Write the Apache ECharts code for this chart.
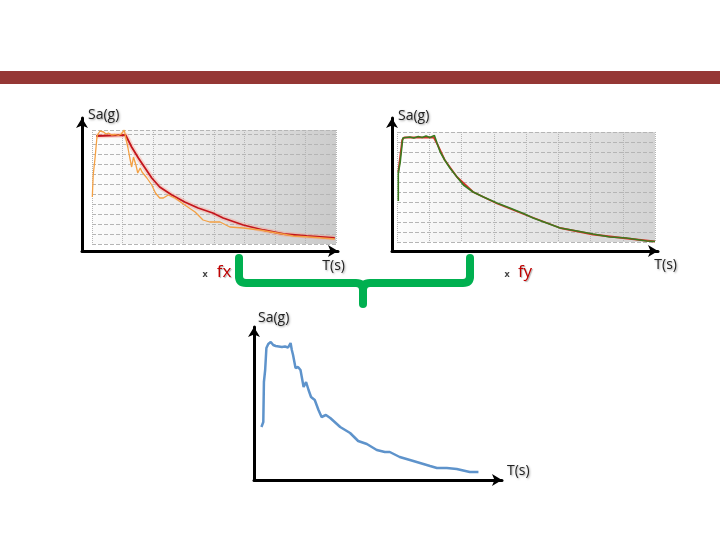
<!DOCTYPE html>
<html><head><meta charset="utf-8">
<script src="https://cdn.jsdelivr.net/npm/echarts@6/dist/echarts.min.js"></script>
<style>html,body{margin:0;padding:0;background:#fff}#c{width:720px;height:540px}</style>
</head><body><div id="c"></div>
<script>
// ---- data (T in s, Sa in g) ----
const fxRecordT = [0.005,0.02,0.05,0.08,0.09,0.13,0.19,0.23,0.27,0.32,0.38,0.43,0.48,0.53,0.55,0.59,0.62,0.65,0.68,0.72,0.75,0.79,0.82,0.90,0.98,1.04,1.11,1.17,1.25,1.36,1.52,1.69,1.82,1.93,2.10,2.26,2.48,2.75,3.03,3.30,3.57,3.98];
const fxRecordSa = [0.47,0.69,0.86,1.06,1.09,1.13,1.12,1.10,1.11,1.09,1.095,1.085,1.10,1.14,1.07,0.96,0.86,0.77,0.87,0.79,0.71,0.76,0.72,0.66,0.59,0.51,0.46,0.46,0.49,0.46,0.39,0.32,0.24,0.22,0.22,0.17,0.16,0.14,0.11,0.08,0.07,0.05];
const fxTargetT = [0.07,0.55,0.65,0.76,0.87,0.98,1.11,1.31,1.52,1.74,1.98,2.15,2.48,2.81,3.14,3.52,3.98];
const fxTargetSa = [1.08,1.09,0.97,0.86,0.76,0.66,0.57,0.49,0.42,0.36,0.31,0.26,0.19,0.14,0.10,0.08,0.06];
const fyRecordT = [0.02,0.02,0.05,0.09,0.10,0.14,0.20,0.26,0.33,0.39,0.45,0.51,0.58,0.59,0.62,0.67,0.74,0.82,0.93,1.03,1.18,1.34,1.55,1.75,1.98,2.11,2.32,2.53,2.79,3.04,3.30,3.56,3.87,4.0];
const fyRecordSa = [0.41,0.69,0.80,1.04,1.05,1.045,1.05,1.04,1.055,1.045,1.06,1.045,1.065,1.05,0.99,0.90,0.82,0.74,0.65,0.57,0.50,0.45,0.39,0.34,0.28,0.24,0.19,0.14,0.11,0.08,0.05,0.04,0.01,0.005];
const fyTargetT = [0.02,0.08,0.11,0.57,0.62,0.74,0.93,1.18,1.55,1.98,2.53,3.04,3.57,4.0];
const fyTargetSa = [0.70,1.02,1.045,1.045,0.985,0.82,0.65,0.50,0.385,0.275,0.14,0.075,0.035,0.005];
const combT = [0.12,0.15,0.16,0.18,0.20,0.23,0.27,0.31,0.35,0.40,0.45,0.50,0.55,0.59,0.61,0.63,0.67,0.71,0.75,0.80,0.84,0.88,0.92,0.98,1.04,1.09,1.16,1.23,1.39,1.55,1.68,1.82,1.98,2.11,2.19,2.35,2.57,2.84,2.95,3.11,3.27,3.48,3.62];
const combSa = [0.53,0.58,0.98,1.10,1.32,1.36,1.38,1.35,1.34,1.335,1.33,1.335,1.325,1.37,1.30,1.25,1.12,1.13,1.10,0.93,0.98,0.90,0.83,0.80,0.70,0.63,0.65,0.62,0.53,0.47,0.39,0.36,0.30,0.28,0.28,0.23,0.19,0.14,0.12,0.12,0.11,0.08,0.08];
const yName = 'Sa(g)';
const xName = 'T(s)';
const fxLabel = 'fx';
const fyLabel = 'fy';

const zip = (a, b) => a.map((v, i) => [v, b[i]]);
const chart = echarts.init(document.getElementById('c'), null, {renderer: 'canvas'});

const FONT = '"Open Sans", "Noto Sans", sans-serif';
const nameStyle = (extra) => Object.assign({
  color: '#222', fontSize: 14, fontFamily: FONT,
  textShadowColor: 'rgba(0,0,0,0.35)', textShadowBlur: 2, textShadowOffsetX: 1, textShadowOffsetY: 1
}, extra);

const grad = (end) => ({
  type: 'linear', x: 0, y: 0, x2: 1, y2: 0.35,
  colorStops: [{offset: 0, color: '#ffffff'}, {offset: 0.35, color: '#efefef'}, {offset: 1, color: end}]
});

const arrowLine = {show: true, onZero: false, symbol: ['none', 'arrow'], symbolSize: [9, 10],
  lineStyle: {color: '#000', width: 3}};
const hidden = {axisTick: {show: false}, axisLabel: {show: false}};
const plotSplit = (type) => ({show: true, lineStyle: {color: '#b5b5b5', type: type, width: 1}});

const option = {
  animation: false,
  backgroundColor: '#fff',
  grid: [
    {left: 92, top: 130, width: 244, height: 114, show: true, borderWidth: 0, backgroundColor: grad('#cbcbcb')},
    {left: 82, top: 118, width: 256, height: 133, show: false},
    {left: 397, top: 132, width: 258, height: 110, show: true, borderWidth: 0, backgroundColor: grad('#d4d4d4')},
    {left: 392, top: 118, width: 266, height: 133, show: false},
    {left: 254, top: 327, width: 248, height: 153, show: false}
  ],
  xAxis: [
    Object.assign({type: 'value', gridIndex: 0, min: 0, max: 4, interval: 0.5, axisLine: {show: false}, splitLine: plotSplit('dotted')}, hidden),
    Object.assign({type: 'value', gridIndex: 1, min: 0, max: 1, axisLine: arrowLine, splitLine: {show: false},
      name: xName, nameLocation: 'end', nameGap: 7,
      nameTextStyle: nameStyle({align: 'right', verticalAlign: 'top', padding: [8, 0, 0, 0]})}, hidden),
    Object.assign({type: 'value', gridIndex: 2, min: 0, max: 4, interval: 0.5, axisLine: {show: false}, splitLine: plotSplit('dotted')}, hidden),
    Object.assign({type: 'value', gridIndex: 3, min: 0, max: 1, axisLine: arrowLine, splitLine: {show: false},
      name: xName, nameLocation: 'end', nameGap: 19,
      nameTextStyle: nameStyle({align: 'right', verticalAlign: 'top', padding: [7, 0, 0, 0]})}, hidden),
    Object.assign({type: 'value', gridIndex: 4, min: 0, max: 4, axisLine: arrowLine, splitLine: {show: false},
      name: xName, nameLocation: 'end', nameGap: 5,
      nameTextStyle: nameStyle({align: 'left', verticalAlign: 'bottom', padding: [0, 0, 2, 0]})}, hidden)
  ],
  yAxis: [
    Object.assign({type: 'value', gridIndex: 0, min: 0, max: 1.14, interval: 0.1, axisLine: {show: false}, splitLine: plotSplit('dashed')}, hidden),
    Object.assign({type: 'value', gridIndex: 1, min: 0, max: 1, axisLine: arrowLine, splitLine: {show: false},
      name: yName, nameLocation: 'end', nameGap: 3,
      nameTextStyle: nameStyle({align: 'left', verticalAlign: 'middle', padding: [0, 0, 0, 6]})}, hidden),
    Object.assign({type: 'value', gridIndex: 2, min: 0, max: 1.1, interval: 0.1, axisLine: {show: false}, splitLine: plotSplit('dashed')}, hidden),
    Object.assign({type: 'value', gridIndex: 3, min: 0, max: 1, axisLine: arrowLine, splitLine: {show: false},
      name: yName, nameLocation: 'end', nameGap: 2,
      nameTextStyle: nameStyle({align: 'left', verticalAlign: 'middle', padding: [0, 0, 0, 6]})}, hidden),
    Object.assign({type: 'value', gridIndex: 4, min: 0, max: 1.53, axisLine: arrowLine, splitLine: {show: false},
      name: yName, nameLocation: 'end', nameGap: 9,
      nameTextStyle: nameStyle({align: 'left', verticalAlign: 'middle', padding: [0, 0, 0, 4]})}, hidden)
  ],
  series: [
    {type: 'line', xAxisIndex: 0, yAxisIndex: 0, data: zip(fxTargetT, fxTargetSa), showSymbol: false, silent: true,
      lineStyle: {color: 'rgba(250,150,130,0.35)', width: 5}, z: 2},
    {type: 'line', xAxisIndex: 0, yAxisIndex: 0, data: zip(fxTargetT, fxTargetSa), showSymbol: false,
      lineStyle: {color: '#c4151c', width: 1.8}, z: 3},
    {type: 'line', xAxisIndex: 0, yAxisIndex: 0, data: zip(fxRecordT, fxRecordSa), showSymbol: false,
      lineStyle: {color: '#f4a043', width: 1.3}, z: 4},
    {type: 'line', xAxisIndex: 2, yAxisIndex: 2, data: zip(fyTargetT, fyTargetSa), showSymbol: false,
      lineStyle: {color: '#d9322a', width: 1.8}, z: 3},
    {type: 'line', xAxisIndex: 2, yAxisIndex: 2, data: zip(fyRecordT, fyRecordSa), showSymbol: false,
      lineStyle: {color: '#3c7a1f', width: 1.6}, z: 4},
    {type: 'line', xAxisIndex: 4, yAxisIndex: 4, data: zip(combT, combSa), showSymbol: false,
      lineStyle: {color: '#5e93cb', width: 2.5}, z: 4}
  ],
  graphic: [
    {type: 'rect', shape: {x: 0, y: 71, width: 720, height: 13}, style: {fill: '#953735'}, z: 10},
    {type: 'group', z: 10, children: [
      {type: 'line', shape: {x1: 239, y1: 258, x2: 239, y2: 276}, style: {stroke: '#00b050', lineWidth: 8, lineCap: 'round'}},
      {type: 'bezierCurve', shape: {x1: 239, y1: 276, cpx1: 239, cpy1: 283, x2: 246, y2: 283}, style: {stroke: '#00b050', lineWidth: 8, fill: null}},
      {type: 'line', shape: {x1: 246, y1: 283, x2: 356, y2: 283}, style: {stroke: '#00b050', lineWidth: 8}},
      {type: 'bezierCurve', shape: {x1: 356, y1: 283, cpx1: 363, cpy1: 283, x2: 363, y2: 290}, style: {stroke: '#00b050', lineWidth: 8, fill: null}},
      {type: 'line', shape: {x1: 363, y1: 290, x2: 363, y2: 304}, style: {stroke: '#00b050', lineWidth: 8, lineCap: 'round'}},
      {type: 'bezierCurve', shape: {x1: 363, y1: 290, cpx1: 363, cpy1: 283, x2: 370, y2: 283}, style: {stroke: '#00b050', lineWidth: 8, fill: null}},
      {type: 'line', shape: {x1: 370, y1: 283, x2: 463, y2: 283}, style: {stroke: '#00b050', lineWidth: 8}},
      {type: 'bezierCurve', shape: {x1: 463, y1: 283, cpx1: 470, cpy1: 283, x2: 470, y2: 276}, style: {stroke: '#00b050', lineWidth: 8, fill: null}},
      {type: 'line', shape: {x1: 470, y1: 276, x2: 470, y2: 258}, style: {stroke: '#00b050', lineWidth: 8, lineCap: 'round'}}
    ]},
    {type: 'text', x: 205, y: 274, z: 10, style: {text: 'x', fill: '#444', font: 'bold 9px ' + FONT, align: 'center', verticalAlign: 'middle'}},
    {type: 'text', x: 224, y: 272, z: 10, style: {text: fxLabel, fill: '#c00000', font: '17px ' + FONT, align: 'center', verticalAlign: 'middle',
      textShadowColor: 'rgba(0,0,0,0.3)', textShadowBlur: 1, textShadowOffsetX: 1, textShadowOffsetY: 1}},
    {type: 'text', x: 507, y: 274, z: 10, style: {text: 'x', fill: '#444', font: 'bold 9px ' + FONT, align: 'center', verticalAlign: 'middle'}},
    {type: 'text', x: 525, y: 272, z: 10, style: {text: fyLabel, fill: '#c00000', font: '17px ' + FONT, align: 'center', verticalAlign: 'middle',
      textShadowColor: 'rgba(0,0,0,0.3)', textShadowBlur: 1, textShadowOffsetX: 1, textShadowOffsetY: 1}}
  ]
};
chart.setOption(option);
</script>
</body></html>
